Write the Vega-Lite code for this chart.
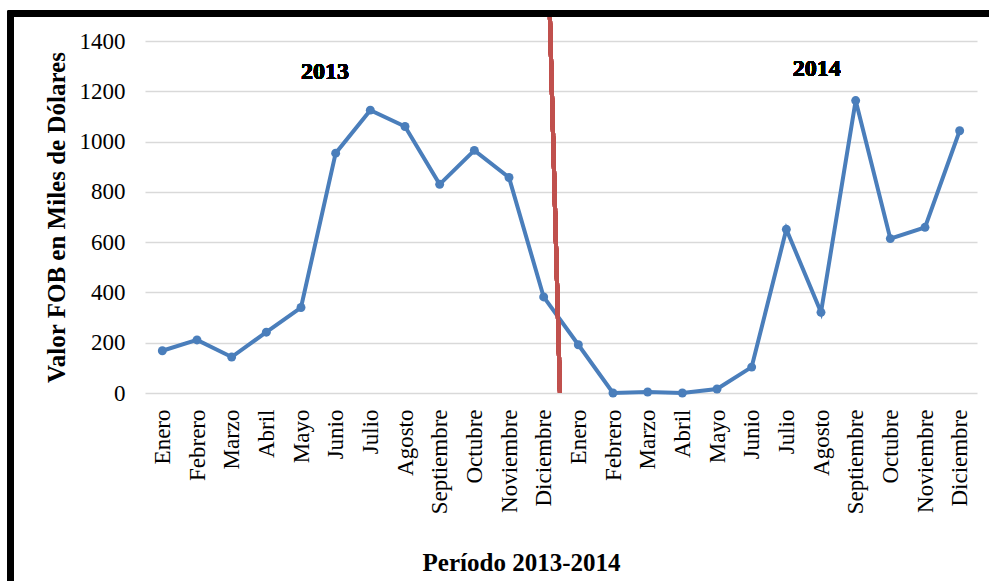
{
  "$schema": "https://vega.github.io/schema/vega-lite/v6.json",
  "autosize": "none",
  "width": 832,
  "height": 352,
  "padding": {"left": 145, "top": 41, "right": 12, "bottom": 188},
  "background": "white",
  "config": {
    "view": {"stroke": null},
    "font": "Liberation Serif",
    "axis": {"labelFont": "Liberation Serif", "titleFont": "Liberation Serif"},
    "text": {"font": "Liberation Serif"}
  },
  "data": {
    "values": [
      {"idx": 0, "anio": "2013", "mes": "Enero", "valor": 168},
      {"idx": 1, "anio": "2013", "mes": "Febrero", "valor": 211},
      {"idx": 2, "anio": "2013", "mes": "Marzo", "valor": 143},
      {"idx": 3, "anio": "2013", "mes": "Abril", "valor": 242},
      {"idx": 4, "anio": "2013", "mes": "Mayo", "valor": 340},
      {"idx": 5, "anio": "2013", "mes": "Junio", "valor": 954},
      {"idx": 6, "anio": "2013", "mes": "Julio", "valor": 1125},
      {"idx": 7, "anio": "2013", "mes": "Agosto", "valor": 1060},
      {"idx": 8, "anio": "2013", "mes": "Septiembre", "valor": 830},
      {"idx": 9, "anio": "2013", "mes": "Octubre", "valor": 965},
      {"idx": 10, "anio": "2013", "mes": "Noviembre", "valor": 857},
      {"idx": 11, "anio": "2013", "mes": "Diciembre", "valor": 382},
      {"idx": 12, "anio": "2014", "mes": "Enero", "valor": 192},
      {"idx": 13, "anio": "2014", "mes": "Febrero", "valor": 0},
      {"idx": 14, "anio": "2014", "mes": "Marzo", "valor": 4},
      {"idx": 15, "anio": "2014", "mes": "Abril", "valor": 0},
      {"idx": 16, "anio": "2014", "mes": "Mayo", "valor": 16},
      {"idx": 17, "anio": "2014", "mes": "Junio", "valor": 103},
      {"idx": 18, "anio": "2014", "mes": "Julio", "valor": 651},
      {"idx": 19, "anio": "2014", "mes": "Agosto", "valor": 321},
      {"idx": 20, "anio": "2014", "mes": "Septiembre", "valor": 1163},
      {"idx": 21, "anio": "2014", "mes": "Octubre", "valor": 614},
      {"idx": 22, "anio": "2014", "mes": "Noviembre", "valor": 659},
      {"idx": 23, "anio": "2014", "mes": "Diciembre", "valor": 1043}
    ]
  },
  "encoding": {
    "x": {
      "field": "idx",
      "type": "quantitative",
      "scale": {"domain": [-0.5, 23.5], "nice": false, "zero": false},
      "axis": {
        "values": [0,1,2,3,4,5,6,7,8,9,10,11,12,13,14,15,16,17,18,19,20,21,22,23],
        "labelExpr": "['Enero','Febrero','Marzo','Abril','Mayo','Junio','Julio','Agosto','Septiembre','Octubre','Noviembre','Diciembre'][datum.value % 12]",
        "labelAngle": -90,
        "labelAlign": "right",
        "labelBaseline": "middle",
        "labelPadding": 16,
        "labelFontSize": 23,
        "labelColor": "#000000",
        "labelOverlap": false,
        "labelBound": false,
        "labelFlush": false,
        "ticks": false,
        "domain": false,
        "grid": false,
        "title": "Período 2013-2014",
        "titleFontSize": 25,
        "titleFontWeight": "bold",
        "titleColor": "#000000",
        "titleX": 376,
        "titleY": 169,
        "titleBaseline": "middle",
        "titleAlign": "center"
      }
    },
    "y": {
      "field": "valor",
      "type": "quantitative",
      "scale": {"domain": [0, 1400], "nice": false},
      "axis": {
        "values": [0, 200, 400, 600, 800, 1000, 1200, 1400],
        "format": "d",
        "labelFontSize": 23,
        "labelColor": "#000000",
        "labelPadding": 20,
        "ticks": false,
        "domain": false,
        "grid": true,
        "gridColor": "#d9d9d9",
        "gridWidth": 1.5,
        "title": "Valor FOB en Miles de Dólares",
        "titleFontSize": 25,
        "titleFontWeight": "bold",
        "titleColor": "#000000",
        "titleX": -89,
        "titleBaseline": "middle"
      }
    }
  },
  "layer": [
    {
      "mark": {"type": "line", "color": "#4a7ebb", "strokeWidth": 4},
      "encoding": {}
    },
    {
      "mark": {"type": "point", "filled": true, "color": "#4a7ebb", "size": 80, "opacity": 1},
      "encoding": {}
    },
    {
      "mark": {"type": "rule", "color": "#c0504d", "strokeWidth": 4},
      "encoding": {
        "x": {"datum": 11.18},
        "y": {"datum": 1496},
        "x2": {"datum": 11.47},
        "y2": {"datum": 2}
      }
    },
    {
      "mark": {"type": "text", "fontSize": 24, "fontWeight": "bold", "color": "#000000", "align": "center", "baseline": "middle"},
      "encoding": {
        "x": {"datum": 4.69},
        "y": {"datum": 1277},
        "text": {"value": "2013"}
      }
    },
    {
      "mark": {"type": "text", "fontSize": 24, "fontWeight": "bold", "color": "#000000", "align": "center", "baseline": "middle"},
      "encoding": {
        "x": {"datum": 18.88},
        "y": {"datum": 1290},
        "text": {"value": "2014"}
      }
    },
    {
      "mark": {"type": "rect", "fill": null, "stroke": "#000000", "strokeWidth": 6},
      "encoding": {
        "x": {"datum": -4.37},
        "x2": {"datum": 24.3},
        "y": {"datum": 1508},
        "y2": {"datum": -850}
      }
    }
  ]
}
